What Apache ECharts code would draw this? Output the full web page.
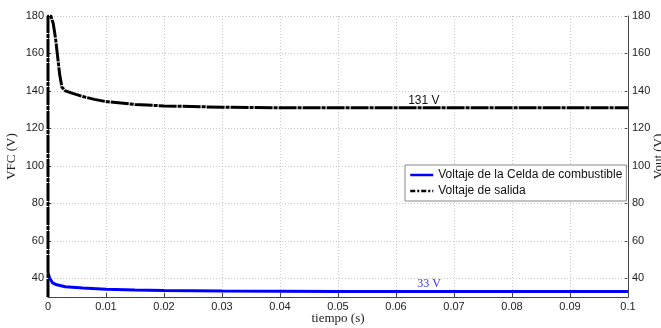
<!DOCTYPE html>
<html>
<head>
<meta charset="utf-8">
<script src="https://cdn.jsdelivr.net/npm/echarts@6/dist/echarts.min.js"></script>
<style>html,body{margin:0;padding:0;background:#fff}#c{width:661px;height:328px}</style>
</head>
<body>
<div id="c"></div>
<script>
// Fuel cell voltage (blue)
const tFC = [0, 0.0003, 0.0008, 0.0015, 0.003, 0.006, 0.01, 0.015, 0.02, 0.03, 0.05, 0.1];
const vFC = [43, 40, 37.5, 36.5, 35.5, 34.8, 34.2, 33.8, 33.5, 33.2, 33, 33];
// Output voltage (black dash-dot)
const tOut = [0, 0, 0.0005, 0.0009, 0.0013, 0.0016, 0.002, 0.0024, 0.003, 0.004, 0.006, 0.008, 0.01, 0.015, 0.02, 0.03, 0.04, 0.1];
const vOut = [30, 180, 180, 176, 168, 160, 149, 142, 140, 139, 137, 135.5, 134.3, 132.8, 132, 131.3, 131, 131];
const yTicks = [40, 60, 80, 100, 120, 140, 160, 180];
const seriesNames = ['Voltaje de la Celda de combustible', 'Voltaje de salida'];
const annotations = [{t: 0.0648, v: 131, text: '131 V'}, {t: 0.0657, v: 33, text: '33 V'}];

const chart = echarts.init(document.getElementById('c'), null, {renderer: 'canvas'});
const gridStyle = {color: '#c8c8c8', type: [1, 2], width: 1};
const yAxisBase = {
  type: 'value', min: 30, max: 180,
  axisLine: {show: true, lineStyle: {color: '#444', width: 1}},
  axisTick: {show: true, inside: true, length: 4, customValues: yTicks, lineStyle: {color: '#444'}},
  axisLabel: {customValues: yTicks, color: '#222', fontSize: 11, fontFamily: 'Liberation Sans', margin: 4},
  splitLine: {show: false},
  nameLocation: 'middle', nameMoveOverlap: false,
  nameTextStyle: {fontFamily: 'Liberation Serif', fontSize: 13, color: '#222'}
};
chart.setOption({
  animation: false,
  grid: {left: 48, right: 33, top: 16, bottom: 31, containLabel: false, outerBoundsMode: 'none'},
  xAxis: {
    type: 'value', min: 0, max: 0.1, interval: 0.01,
    name: 'tiempo (s)', nameLocation: 'middle', nameGap: 15, nameMoveOverlap: false,
    nameTextStyle: {fontFamily: 'Liberation Serif', fontSize: 13, color: '#222'},
    axisLine: {show: true, lineStyle: {color: '#444'}},
    axisTick: {show: true, inside: true, length: 4, lineStyle: {color: '#444'}},
    axisLabel: {color: '#222', fontSize: 11, fontFamily: 'Liberation Sans', margin: 4,
      formatter: v => String(parseFloat(v.toFixed(2)))},
    splitLine: {show: true, lineStyle: gridStyle}
  },
  yAxis: [
    Object.assign({}, yAxisBase, {position: 'left', name: 'VFC (V)', nameGap: 30}),
    Object.assign({}, yAxisBase, {position: 'right', name: 'Vout (V)', nameGap: 24})
  ],
  legend: {
    orient: 'vertical', left: 405, top: 165,
    backgroundColor: '#fff', borderColor: '#888', borderWidth: 1,
    padding: [4, 4], itemGap: 4, itemWidth: 23, itemHeight: 14,
    textStyle: {fontFamily: 'Liberation Sans', fontSize: 12, color: '#111'},
    data: [
      {name: seriesNames[0], itemStyle: {opacity: 0}, lineStyle: {color: '#0000ff', width: 2.5}},
      {name: seriesNames[1], itemStyle: {opacity: 0}, lineStyle: {color: '#000', width: 2.5, type: [5, 2, 2, 2]}}
    ]
  },
  series: [
    {
      name: seriesNames[0], type: 'line', yAxisIndex: 0, symbol: 'none', z: 3,
      data: tFC.map((t, i) => [t, vFC[i]]),
      lineStyle: {color: '#0000ff', width: 3}, itemStyle: {color: '#0000ff'},
      markLine: {
        silent: true, symbol: 'none', label: {show: false}, z: 1,
        lineStyle: gridStyle,
        data: yTicks.map(v => ({yAxis: v}))
      },
      markPoint: {
        symbol: 'circle', symbolSize: 0,
        label: {show: true, position: 'top', distance: 2, color: '#3030ff', fontFamily: 'Liberation Serif', fontSize: 12,
          formatter: p => p.name},
        data: [{name: annotations[1].text, coord: [annotations[1].t, annotations[1].v]}]
      }
    },
    {
      name: seriesNames[1], type: 'line', yAxisIndex: 1, symbol: 'none', z: 4,
      data: tOut.map((t, i) => [t, vOut[i]]),
      lineStyle: {color: '#000', width: 3, type: [18, 1, 4, 1]}, itemStyle: {color: '#000'},
      markPoint: {
        symbol: 'circle', symbolSize: 0,
        label: {show: true, position: 'top', distance: 1, color: '#111', fontFamily: 'Liberation Sans', fontSize: 12,
          formatter: p => p.name},
        data: [{name: annotations[0].text, coord: [annotations[0].t, annotations[0].v]}]
      }
    }
  ]
});
</script>
</body>
</html>
